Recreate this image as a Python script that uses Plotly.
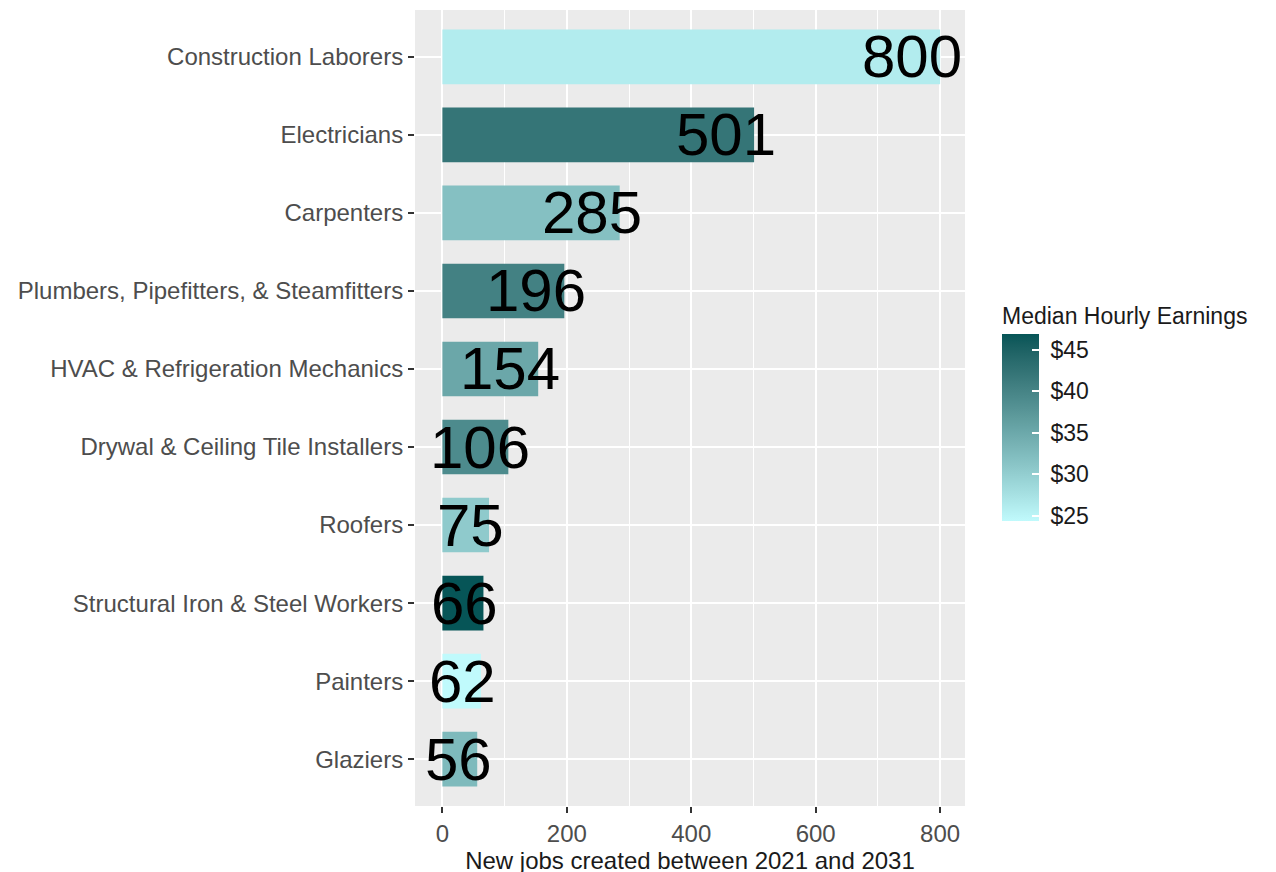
import plotly.graph_objects as go

occupations = [
    "Construction Laborers",
    "Electricians",
    "Carpenters",
    "Plumbers, Pipefitters, & Steamfitters",
    "HVAC & Refrigeration Mechanics",
    "Drywal & Ceiling Tile Installers",
    "Roofers",
    "Structural Iron & Steel Workers",
    "Painters",
    "Glaziers",
]
new_jobs = [800, 501, 285, 196, 154, 106, 75, 66, 62, 56]
median_hourly = [26.1, 42.1, 31.7, 40.3, 35.1, 39.0, 30.4, 46.85, 24.3, 32.6]
cbar_ticks = [25, 30, 35, 40, 45]
cbar_labels = ["$25", "$30", "$35", "$40", "$45"]

LOW = "#C0FAFC"
HIGH = "#065557"
LABEL_SIZE = 60


# --- colour scale interpolated in CIE Lab (like ggplot2's gradient) ---
def _hex_to_rgb(h):
    h = h.lstrip("#")
    return [int(h[i:i + 2], 16) / 255 for i in (0, 2, 4)]


def _lin(c):
    return c / 12.92 if c <= 0.04045 else ((c + 0.055) / 1.055) ** 2.4


def _delin(c):
    c = max(0.0, min(1.0, c))
    return 12.92 * c if c <= 0.0031308 else 1.055 * c ** (1 / 2.4) - 0.055


WP = (0.95047, 1.0, 1.08883)


def _rgb_to_lab(rgb):
    r, g, b = [_lin(c) for c in rgb]
    X = 0.4124 * r + 0.3576 * g + 0.1805 * b
    Y = 0.2126 * r + 0.7152 * g + 0.0722 * b
    Z = 0.0193 * r + 0.1192 * g + 0.9505 * b

    def f(t):
        return t ** (1 / 3) if t > 0.008856 else 7.787 * t + 16 / 116
    fx, fy, fz = f(X / WP[0]), f(Y / WP[1]), f(Z / WP[2])
    return (116 * fy - 16, 500 * (fx - fy), 200 * (fy - fz))


def _lab_to_rgb(lab):
    L, a, b = lab
    fy = (L + 16) / 116
    fx = fy + a / 500
    fz = fy - b / 200

    def finv(t):
        return t ** 3 if t ** 3 > 0.008856 else (t - 16 / 116) / 7.787
    X, Y, Z = finv(fx) * WP[0], finv(fy) * WP[1], finv(fz) * WP[2]
    r = 3.2406 * X - 1.5372 * Y - 0.4986 * Z
    g = -0.9689 * X + 1.8758 * Y + 0.0415 * Z
    bb = 0.0557 * X - 0.2040 * Y + 1.0570 * Z
    return [round(_delin(c) * 255) for c in (r, g, bb)]


lab_lo = _rgb_to_lab(_hex_to_rgb(LOW))
lab_hi = _rgb_to_lab(_hex_to_rgb(HIGH))
NSTOPS = 21
colorscale = []
for i in range(NSTOPS):
    t = i / (NSTOPS - 1)
    lab = [lab_lo[k] + (lab_hi[k] - lab_lo[k]) * t for k in range(3)]
    r, g, b = _lab_to_rgb(lab)
    colorscale.append([t, f"rgb({r},{g},{b})"])

fig = go.Figure()
fig.add_trace(go.Bar(
    x=new_jobs,
    y=occupations,
    orientation="h",
    width=0.7,
    marker=dict(
        color=median_hourly,
        colorscale=colorscale,
        line=dict(width=0),
        colorbar=dict(
            title=dict(text="Median Hourly Earnings", side="top",
                       font=dict(size=23, color="#1A1A1A")),
            tickvals=cbar_ticks,
            ticktext=["\u00a0" + t for t in cbar_labels],
            ticks="inside",
            ticklen=7,
            tickcolor="white",
            tickwidth=1.5,
            tickfont=dict(size=23, color="#1A1A1A"),
            thickness=37,
            thicknessmode="pixels",
            len=218,
            lenmode="pixels",
            x=1.0673,
            xanchor="left",
            xpad=0,
            y=0.3576,
            yanchor="bottom",
            ypad=0,
            outlinewidth=0,
        ),
    ),
    hoverinfo="x+y",
    showlegend=False,
))

for occ, val in zip(occupations, new_jobs):
    txt = str(val)
    w = len(txt) * 0.556 * LABEL_SIZE
    fig.add_annotation(
        x=val, y=occ, text=txt, showarrow=False,
        xanchor="center", yanchor="middle",
        xshift=-0.28 * w,
        font=dict(size=LABEL_SIZE, color="black", family="Liberation Sans, Arial"),
    )

fig.update_layout(
    width=1276, height=872,
    margin=dict(l=407, r=319, t=2, b=74, pad=0, autoexpand=False),
    paper_bgcolor="white",
    plot_bgcolor="#EBEBEB",
    font=dict(family="Liberation Sans, Arial", color="#4D4D4D"),
    xaxis=dict(
        range=[-44, 840],
        tickvals=[0, 200, 400, 600, 800],
        showgrid=True, gridcolor="white", gridwidth=1.8,
        minor=dict(dtick=100, tick0=0, showgrid=True, gridcolor="white", gridwidth=0.8),
        zeroline=False, automargin=False,
        ticks="outside", ticklen=6, tickcolor="#333333", tickwidth=1.5,
        tickfont=dict(size=24, color="#4D4D4D"),
        title=dict(text="New jobs created between 2021 and 2031",
                   font=dict(size=24, color="#1A1A1A"), standoff=2),
    ),
    yaxis=dict(
        categoryorder="array", categoryarray=occupations,
        range=[9.6, -0.6],
        showgrid=True, gridcolor="white", gridwidth=1.8,
        zeroline=False, automargin=False,
        ticks="outside", ticklen=6, tickcolor="#333333", tickwidth=1.5,
        tickfont=dict(size=24, color="#4D4D4D"),
    ),
)

fig.write_html("out.html")
